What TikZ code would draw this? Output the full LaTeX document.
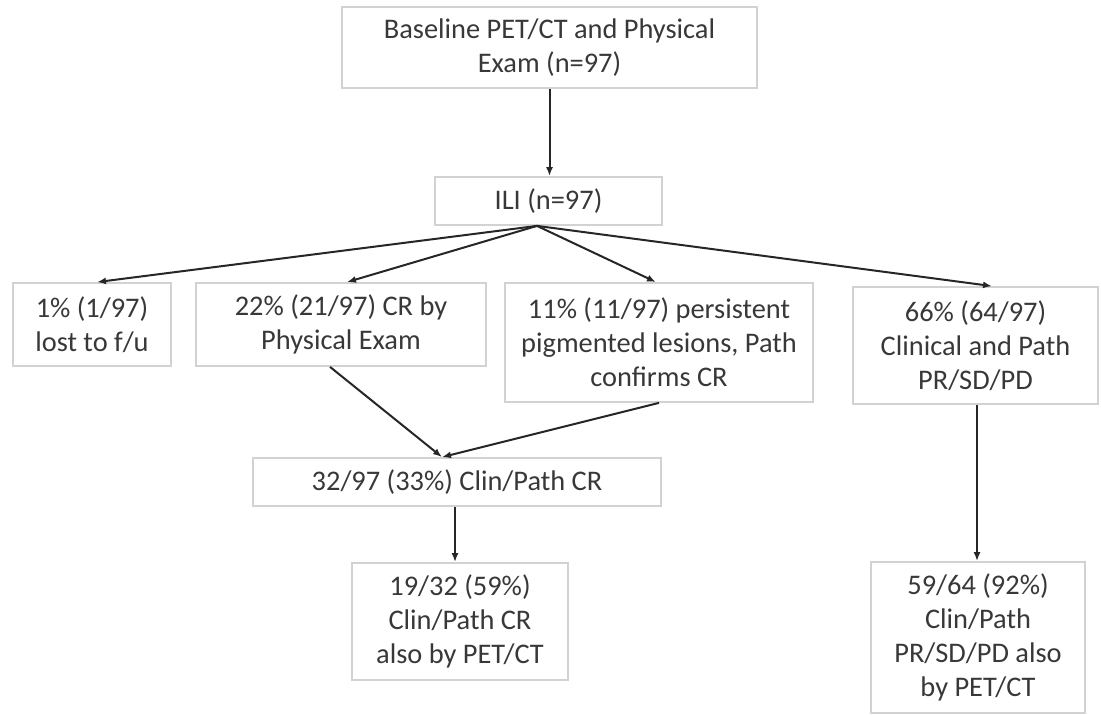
\documentclass[tikz,border=0pt]{standalone}
\usepackage{fontspec}
\setmainfont{Carlito}
\usepackage{tikz}
\usetikzlibrary{positioning,calc,arrows.meta}
\newcommand*{\fnt}{\fontsize{14.2}{17}\selectfont}

\begin{document}
\begin{tikzpicture}[x=0.5pt,y=-0.5pt,
  box/.style={draw=gray!35,line width=0.9pt,align=center,inner sep=0pt,
              text=black!78,font=\fnt},
  arr/.style={draw=black!85,line width=1pt,-{Latex[length=4.5pt,width=3.5pt]}}]
\useasboundingbox (0,0) rectangle (1101,715);
% Top of the chart
\node[box,minimum width=207.5pt,minimum height=40.5pt] (base) at (549.5,47.5)
  {Baseline PET/CT and Physical\\Exam (n=97)};
\node[box,minimum width=113.5pt,minimum height=24pt] (ili) at (548.5,201) {ILI (n=97)};
% Four outcomes after ILI
\node[box,minimum width=79pt,minimum height=41.5pt] (lost) at (92,324.5)
  {1\% (1/97)\\lost to f/u};
\node[box,minimum width=145pt,minimum height=41.5pt] (cr22) at (341,324.5)
  {22\% (21/97) CR by\\Physical Exam};
\node[box,minimum width=154pt,minimum height=59.5pt] (pers) at (659,342.5)
  {11\% (11/97) persistent\\pigmented lesions, Path\\confirms CR};
\node[box,minimum width=122.5pt,minimum height=58.5pt] (clin) at (975.5,345.5)
  {66\% (64/97)\\Clinical and Path\\PR/SD/PD};
% Merged CR group and PET/CT results
\node[box,minimum width=204pt,minimum height=24pt] (pathcr) at (457,482)
  {32/97 (33\%) Clin/Path CR};
\node[box,minimum width=108pt,minimum height=58.5pt] (cr59) at (460,621.5)
  {19/32 (59\%)\\Clin/Path CR\\also by PET/CT};
\node[box,minimum width=107pt,minimum height=75.5pt] (pd92) at (978,637.5)
  {59/64 (92\%)\\Clin/Path\\PR/SD/PD also\\by PET/CT};
% Arrows
\coordinate (fan) at ([xshift=-5.75pt]ili.south);
\coordinate (join) at ([xshift=-7.5pt]pathcr.north);
\draw[arr] (base.south) -- (base.south |- ili.north);
\draw[arr] (fan) -- ([xshift=2.5pt]lost.north);
\draw[arr] (fan) -- ([xshift=3pt]cr22.north);
\draw[arr] (fan) -- ([xshift=-1.5pt]pers.north);
\draw[arr] (fan) -- ([xshift=8.25pt]clin.north);
\draw[arr] ([xshift=-5.5pt]cr22.south) -- (join);
\draw[arr] (pers.south) -- (join);
\draw[arr] ([xshift=-1pt]pathcr.south) -- ([xshift=-1pt]pathcr.south |- cr59.north);
\draw[arr] ([xshift=0.75pt]clin.south) -- ([xshift=0.75pt]clin.south |- pd92.north);
\end{tikzpicture}
\end{document}
